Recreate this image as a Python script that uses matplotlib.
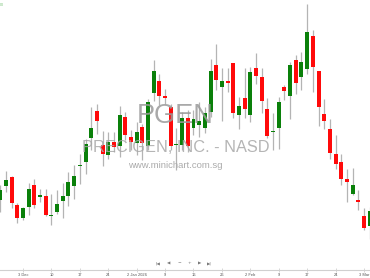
import matplotlib
matplotlib.use("Agg")
import matplotlib.pyplot as plt
import numpy as np

# Daily OHLC (arbitrary price units), Nov 26 2025 .. Mar 4 2026
opens  = [2.00, 2.27, 2.45, 1.90, 1.63, 1.85, 2.29, 2.07, 2.07, 1.68,
          1.75, 1.97, 2.08, 2.28, 2.68, 2.76, 3.23, 3.77, 3.11, 2.90,
          3.15, 3.08, 3.65, 3.25, 3.13, 3.45, 3.08, 4.13, 4.39, 4.08,
          3.86, 3.09, 3.10, 3.63, 3.43, 3.50, 3.43, 3.75, 4.70, 4.26,
          4.37, 4.73, 3.70, 4.03, 3.70, 4.64, 4.45, 3.81, 3.35, 3.43,
          4.25, 4.07, 4.79, 4.45, 4.61, 5.28, 4.58, 3.72, 3.41, 2.92,
          2.75, 2.41, 2.12, 2.00, 1.68, 1.47]
highs  = [2.30, 2.58, 2.48, 1.95, 1.87, 2.35, 2.42, 2.23, 2.23, 2.12,
          2.21, 2.34, 2.57, 2.71, 2.92, 3.23, 3.87, 3.93, 3.39, 3.37,
          3.36, 3.89, 3.77, 3.40, 3.57, 3.53, 4.03, 4.80, 4.52, 4.22,
          3.92, 3.44, 3.76, 3.80, 3.80, 3.97, 3.86, 4.82, 5.12, 4.64,
          4.64, 4.74, 4.07, 4.64, 4.66, 4.95, 4.64, 4.04, 3.74, 4.06,
          4.30, 4.77, 4.90, 4.97, 5.92, 5.40, 4.58, 4.03, 3.63, 3.30,
          2.93, 2.63, 2.64, 2.20, 1.84, 1.87]
lows   = [1.76, 2.16, 1.84, 1.55, 1.60, 1.70, 1.84, 1.97, 1.68, 1.51,
          1.73, 1.65, 1.88, 2.02, 2.32, 2.53, 3.00, 3.33, 2.68, 2.83,
          2.96, 2.87, 3.20, 3.00, 2.90, 2.80, 3.00, 3.98, 3.90, 3.92,
          3.00, 2.60, 3.00, 2.96, 3.30, 3.27, 3.34, 3.67, 4.20, 3.58,
          4.16, 3.64, 3.42, 3.65, 3.57, 4.33, 3.75, 3.24, 3.00, 3.02,
          4.00, 3.63, 4.12, 4.21, 4.52, 4.15, 3.48, 3.43, 2.83, 2.63,
          2.30, 1.97, 2.10, 1.80, 1.40, 1.23]
closes = [2.20, 2.39, 1.93, 1.63, 1.83, 2.21, 1.90, 2.09, 1.70, 1.70,
          1.93, 2.08, 2.35, 2.48, 2.70, 3.12, 3.43, 3.57, 2.91, 3.15,
          3.06, 3.70, 3.30, 3.15, 3.35, 3.13, 3.95, 4.58, 4.07, 4.03,
          3.07, 3.12, 3.63, 3.07, 3.61, 3.57, 3.73, 4.57, 4.40, 4.37,
          4.33, 3.74, 3.88, 3.81, 4.55, 4.48, 3.97, 3.28, 3.38, 3.95,
          4.18, 4.70, 4.35, 4.75, 5.35, 4.65, 3.85, 3.57, 2.93, 2.72,
          2.41, 2.35, 2.30, 1.95, 1.43, 1.78]

tick_index  = [4, 9, 14, 19, 24, 29, 34, 39, 44, 49, 54, 59, 64]
tick_labels = ["3 Dec", "10", "17", "24", "2 Jan 2026", "9", "16", "26",
               "2 Feb", "9", "17", "24", "3 Mar"]

W, H = 370, 278
fig = plt.figure(figsize=(W / 100, H / 100), dpi=100)
fig.patch.set_facecolor("white")

def fx(px):
    return px / W

def fy(py):
    return 1 - py / H

ax = fig.add_axes([0, 8 / H, 1, 270 / H])
ax.set_facecolor("white")

n = len(opens)
idx = np.arange(n)
o = np.array(opens); c = np.array(closes)
hi = np.array(highs); lo = np.array(lows)
up = c >= o
colors = np.where(up, "#0a800a", "#ff0a0a")

ax.vlines(idx, lo, hi, color="#b4b4b4", linewidth=0.9, zorder=2)
bottoms = np.minimum(o, c)
heights = np.maximum(np.abs(c - o), 0.025)
ax.bar(idx, heights, bottom=bottoms, width=0.7, color=colors,
       edgecolor="none", linewidth=0, zorder=3)

ax.set_xlim(-0.05, 65.06)
ax.set_ylim(6.0 - 270 / 50, 6.0)

for s in ["top", "right", "left"]:
    ax.spines[s].set_visible(False)
ax.spines["bottom"].set_color("#d0d0d0")
ax.spines["bottom"].set_linewidth(0.8)
ax.set_yticks([])
ax.set_xticks(tick_index)
ax.set_xticklabels(tick_labels, fontsize=2.9, color="#555555",
                   family=["Liberation Sans", "DejaVu Sans"])
ax.tick_params(axis="x", direction="inout", length=3, width=0.5,
               color="#c8c8c8", pad=0.8)

# watermark texts
fig.text(fx(175.5), fy(115.5), "PGEN", fontsize=19.5, color="#9a9a9a",
         ha="center", va="center", family=["Liberation Sans", "DejaVu Sans"],
         zorder=0, alpha=0.85)
fig.text(fx(176), fy(147), "PRECIGEN, INC. - NASD", fontsize=11.8,
         color="#a8a8a8", ha="center", va="center",
         family=["Liberation Sans", "DejaVu Sans"], zorder=0, alpha=0.85)
fig.text(fx(175.5), fy(165.5), "www.minichart.com.sg", fontsize=6.8,
         color="#ababab", ha="center", va="center",
         family=["Liberation Sans", "DejaVu Sans"], zorder=0)

# navigation icons
nav = ["|\u25C0", "\u25C0", "\u2212", "+", "\u25B6", "\u25B6|"]
nav_x = [158.3, 169, 179.3, 189, 199.3, 209.3]
for t, x in zip(nav, nav_x):
    fig.text(fx(x), fy(263.3), t, fontsize=3.2, color="#777777",
             ha="center", va="center", family="DejaVu Sans")

# small green price label at top-left
fig.text(fx(0.3), fy(5.5), "00", fontsize=2.6, color="#6fbf6f",
         ha="left", va="center", family=["Liberation Sans", "DejaVu Sans"])

fig.savefig("out.png", dpi=100, facecolor="white")
